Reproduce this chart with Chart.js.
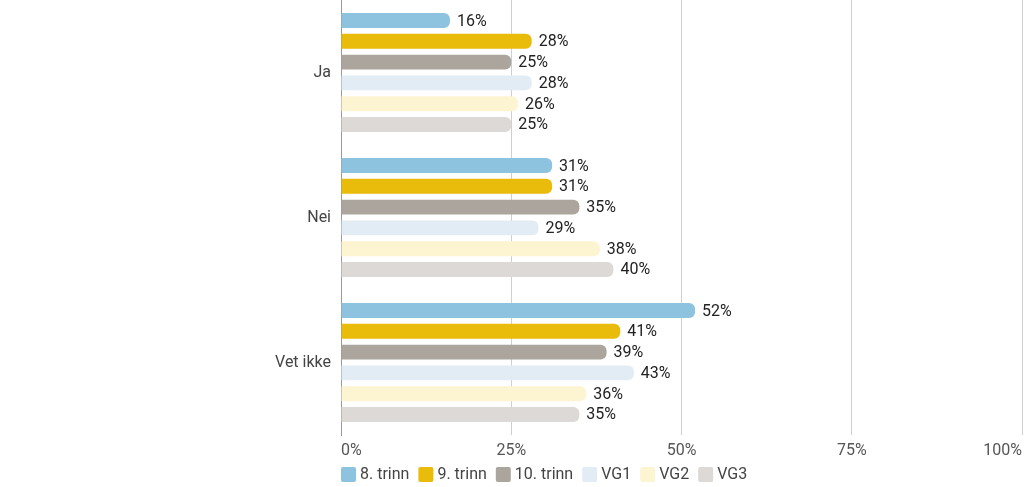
<!DOCTYPE html>
<html lang="no">
<head>
  <meta charset="UTF-8">
  <title>Chart</title>
  <script src="https://cdn.jsdelivr.net/npm/chart.js"></script>
  <style>
    html, body { margin: 0; padding: 0; background: #fff; }
    .wrap { width: 1024px; height: 487px; }
  </style>
</head>
<body>
<div class="wrap"><canvas id="chart"></canvas></div>
<script>
  const categories = ['Ja', 'Nei', 'Vet ikke'];
  const seriesNames = ['8. trinn', '9. trinn', '10. trinn', 'VG1', 'VG2', 'VG3'];
  const trinn8 = [16, 31, 52];
  const trinn9 = [28, 31, 41];
  const trinn10 = [25, 35, 39];
  const vg1 = [28, 29, 43];
  const vg2 = [26, 38, 36];
  const vg3 = [25, 40, 35];
  const xTicks = [0, 25, 50, 75, 100];

  const colors = ['#8ec3e0', '#e9bb0b', '#aca59d', '#e2ecf5', '#fdf4d2', '#ddd9d6'];
  const values = [trinn8, trinn9, trinn10, vg1, vg2, vg3];

  // value labels at the end of each bar
  const barLabels = {
    id: 'barLabels',
    afterDatasetsDraw(chart) {
      const ctx = chart.ctx;
      ctx.save();
      ctx.font = '16px Roboto';
      ctx.fillStyle = '#222';
      ctx.textBaseline = 'middle';
      ctx.textAlign = 'left';
      chart.data.datasets.forEach((ds, i) => {
        chart.getDatasetMeta(i).data.forEach((bar, j) => {
          ctx.fillText(ds.data[j] + '%', bar.x + 7, bar.y + 1);
        });
      });
      ctx.restore();
    }
  };

  // legend under the axis, starting at the plot's left edge
  const bottomLegend = {
    id: 'bottomLegend',
    afterDraw(chart) {
      const ctx = chart.ctx;
      let x = chart.chartArea.left;
      const y = 467;
      ctx.save();
      ctx.font = '16px Roboto';
      ctx.textBaseline = 'middle';
      ctx.textAlign = 'left';
      chart.data.datasets.forEach((ds) => {
        ctx.fillStyle = ds.backgroundColor;
        ctx.beginPath();
        ctx.roundRect(x, y, 15, 15, 2);
        ctx.fill();
        ctx.fillStyle = '#444';
        ctx.fillText(ds.label, x + 19, y + 8);
        x += 19 + ctx.measureText(ds.label).width + 9;
      });
      ctx.restore();
    }
  };

  new Chart(document.getElementById('chart'), {
    type: 'bar',
    data: {
      labels: categories,
      datasets: seriesNames.map((name, i) => ({
        label: name,
        data: values[i],
        backgroundColor: colors[i],
        borderRadius: { topRight: 6, bottomRight: 6, topLeft: 0, bottomLeft: 0 },
        borderSkipped: false,
        categoryPercentage: 0.86,
        barPercentage: 0.72
      }))
    },
    options: {
      indexAxis: 'y',
      responsive: true,
      maintainAspectRatio: false,
      animation: false,
      layout: { padding: { top: 0, right: 2, bottom: 28, left: 0 } },
      plugins: {
        legend: { display: false },
        tooltip: { enabled: false }
      },
      scales: {
        x: {
          min: 0,
          max: 100,
          afterBuildTicks: (s) => { s.ticks = xTicks.map(v => ({ value: v })); },
          afterFit: (s) => { s.paddingLeft = 0; s.paddingRight = 0; s.height = 24; },
          ticks: {
            align: 'inner',
            font: { family: 'Roboto', size: 16 },
            color: '#555',
            padding: 6,
            callback: (v) => v + '%'
          },
          grid: { color: '#cfcfcf', tickLength: 0 },
          border: { display: false }
        },
        y: {
          afterFit: (s) => { s.width = 341; s.paddingTop = 0; s.paddingBottom = 0; },
          ticks: {
            font: { family: 'Roboto', size: 16 },
            color: '#444',
            padding: 2
          },
          grid: { display: false },
          border: { display: true, color: '#999' }
        }
      }
    },
    plugins: [barLabels, bottomLegend]
  });
</script>
</body>
</html>
